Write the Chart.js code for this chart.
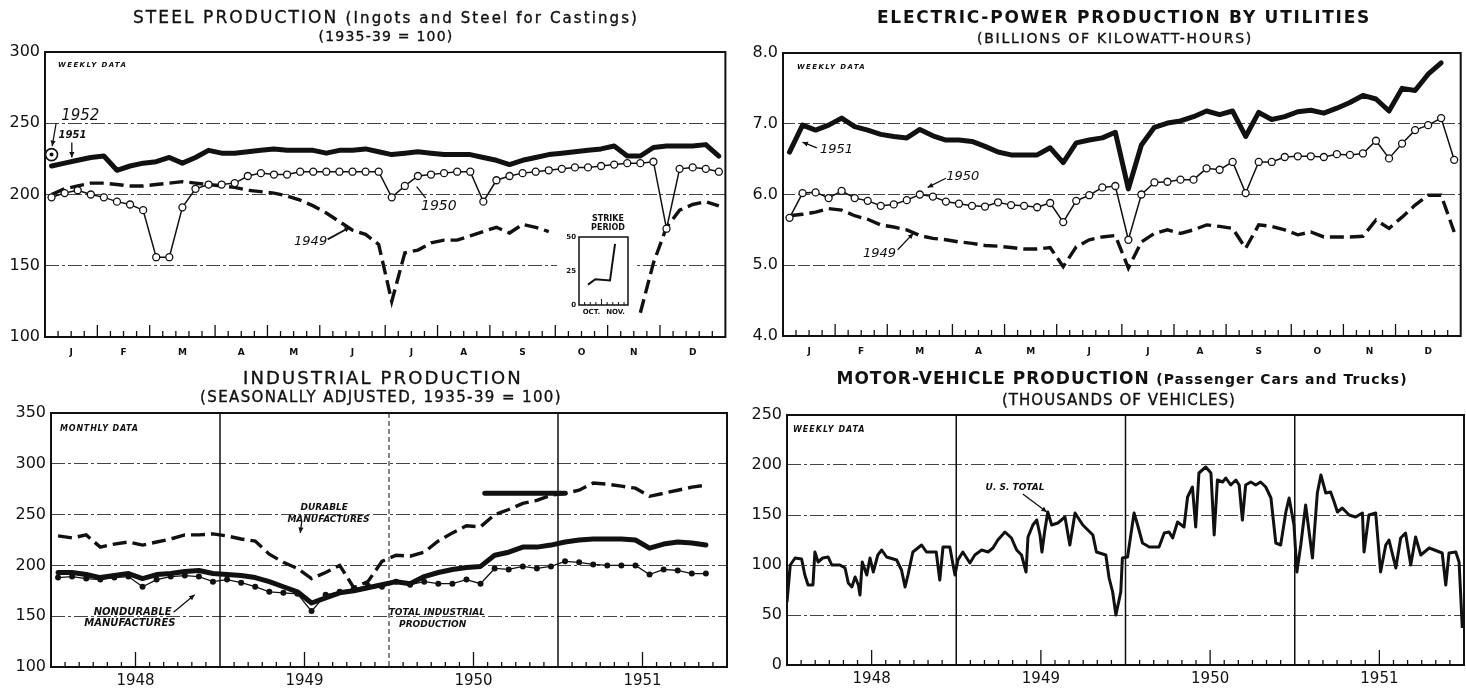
<!DOCTYPE html>
<html><head><meta charset="utf-8">
<script src="https://cdn.jsdelivr.net/npm/chart.js@4.4.1/dist/chart.umd.min.js"></script>
<style>
html,body{margin:0;padding:0;background:#fff;}
body{position:relative;width:1466px;height:690px;overflow:hidden;font-family:"DejaVu Sans",sans-serif;color:#111;}
canvas{position:absolute;}
.t{position:absolute;white-space:nowrap;line-height:1;transform:translate(-50%,-50%);color:#111;}
.n{-webkit-text-stroke:0.35px #111;}
</style></head><body>
<canvas id="cTL" width="733" height="365" style="left:0;top:0"></canvas>
<canvas id="cTR" width="733" height="365" style="left:733px;top:0"></canvas>
<canvas id="cBL" width="733" height="325" style="left:0;top:365px"></canvas>
<canvas id="cBR" width="733" height="325" style="left:733px;top:365px"></canvas>
<canvas id="cIN" width="80" height="112" style="left:557px;top:212px;background:#fff;z-index:2"></canvas>

<div class="t n" data-w="506" style="left:386px;top:17px"><span style="font-size:17px">STEEL PRODUCTION</span> <span style="font-size:15px">(Ingots and Steel for Castings)</span></div>
<div class="t n" data-w="135" style="left:386px;top:36px;font-size:14px">(1935-39 = 100)</div>
<div class="t" data-w="494" style="left:1124px;top:17px;font-size:17px;font-weight:bold">ELECTRIC-POWER PRODUCTION BY UTILITIES</div>
<div class="t n" data-w="276" style="left:1115px;top:38px;font-size:14px">(BILLIONS OF KILOWATT-HOURS)</div>
<div class="t n" data-w="280" style="left:383px;top:378px;font-size:18px">INDUSTRIAL PRODUCTION</div>
<div class="t n" data-w="362" style="left:381px;top:397px;font-size:15px">(SEASONALLY ADJUSTED, 1935-39 = 100)</div>
<div class="t" data-w="571" style="left:1122px;top:378px;font-weight:bold"><span style="font-size:17px">MOTOR-VEHICLE PRODUCTION</span> <span style="font-size:14px">(Passenger Cars and Trucks)</span></div>
<div class="t n" data-w="234" style="left:1119px;top:400px;font-size:15px">(THOUSANDS OF VEHICLES)</div>
<div class="t" style="left:608px;top:219px;font-size:8px;font-weight:bold;z-index:3">STRIKE</div>
<div class="t" style="left:608px;top:228px;font-size:8px;font-weight:bold;z-index:3">PERIOD</div>

<script>
// ---------------- DATA ----------------
const monthLetters = ['J','F','M','A','M','J','J','A','S','O','N','D'];
const weeksPerMonth = [4,4,5,4,4,5,4,4,5,4,4,5];

const steelTicks = [100,150,200,250,300];
const steel1952 = [228];
const steel1951 = [220,222,224,226,227,217,220,222,223,226,222,226,231,229,229,230,231,232,231,231,231,229,231,231,232,230,228,229,230,229,228,228,228,226,224,221,224,226,228,229,230,231,232,234,227,227,233,234,234,234,235,227];
const steel1950 = [198,201,203,200,198,195,193,189,156,156,191,204,207,207,208,213,215,214,214,216,216,216,216,216,216,216,198,206,213,214,215,216,216,195,210,213,215,216,217,218,219,219,220,221,222,222,223,176,218,219,218,216];
const steel1949 = [200,204,206,208,208,207,206,206,207,208,209,208,207,206,205,203,202,201,199,196,192,187,181,175,172,165,125,159,161,166,168,168,171,174,177,173,179,177,174,null,null,null,null,null,null,117,152,177,189,193,195,192];

const strikeTicks = [0,25,50];
const strikeMonths = ['OCT.','NOV.'];
const strikeWeeks = [1.6,2.9,5.5,6.4];
const strikeValues = [15,19,18,45];

const elecTicks = [4,5,6,7,8];
const elec1951 = [6.60,6.98,6.91,6.98,7.08,6.96,6.91,6.85,6.82,6.80,6.92,6.83,6.77,6.77,6.75,6.68,6.60,6.56,6.56,6.56,6.66,6.45,6.73,6.77,6.80,6.88,6.08,6.70,6.95,7.01,7.04,7.10,7.18,7.13,7.18,6.82,7.16,7.06,7.10,7.17,7.19,7.15,7.22,7.30,7.40,7.35,7.18,7.50,7.47,7.70,7.86,null];
const elec1950 = [5.67,6.02,6.03,5.95,6.05,5.95,5.91,5.84,5.86,5.92,6.00,5.97,5.90,5.87,5.84,5.83,5.89,5.85,5.84,5.82,5.88,5.61,5.91,5.99,6.10,6.12,5.36,6.00,6.17,6.18,6.21,6.21,6.37,6.35,6.46,6.02,6.46,6.46,6.53,6.54,6.54,6.53,6.57,6.56,6.58,6.76,6.51,6.72,6.91,6.98,7.08,6.49];
const elec1949 = [5.70,5.72,5.75,5.80,5.78,5.70,5.65,5.57,5.54,5.50,5.42,5.38,5.36,5.33,5.31,5.28,5.27,5.25,5.23,5.23,5.25,4.98,5.26,5.36,5.40,5.42,4.96,5.33,5.45,5.50,5.45,5.50,5.57,5.55,5.52,5.24,5.57,5.55,5.50,5.43,5.47,5.40,5.40,5.40,5.41,5.64,5.52,5.68,5.85,5.99,5.99,5.47];

const yearLabels = ['1948','1949','1950','1951'];
const industrialTicks = [100,150,200,250,300,350];
const durable = [229,227,230,218,221,223,220,223,226,230,230,231,229,226,224,211,203,197,187,193,200,178,184,204,210,209,213,224,232,239,238,250,255,261,264,269,271,274,281,280,278,276,268,271,274,277,279];
const totalIndustrial = [193,193,191,188,190,192,187,191,192,194,195,192,191,190,188,184,179,174,163,168,173,175,178,181,184,182,189,193,196,198,199,210,213,218,218,220,223,225,226,226,226,225,217,221,223,222,220];
const nondurable = [188,189,187,186,188,189,179,186,189,190,189,184,186,183,179,174,173,172,155,171,174,177,180,179,184,181,184,182,182,186,182,197,196,199,197,199,204,203,201,200,200,200,191,196,195,192,192];
const industrialBarMonths = [30.8,36.5];
const industrialBarValues = [271,271];

const vehicleTicks = [0,50,100,150,200,250];
const vehicleWeeks = [0,1,2.5,4.5,5.5,6.5,8,8.6,9.6,11,12.7,13.8,16.3,17.9,18.9,20,21,22,22.5,23.2,24.6,25.6,26.6,28,29.2,30.7,33.8,35.3,36.4,37.3,38.8,41.5,43,46,47.1,48.1,50.2,51.2,51.8,52.7,54.2,56.4,57.9,60,62,63.5,65,67.2,69.2,70.8,72.3,73.7,74.3,75.8,77,78,78.6,79.5,80.4,81.6,83.5,85.7,87.2,88.8,91.2,94.3,95.4,
  98.3,99.3,100.4,101.4,102.9,103.4,105,106,107,108.1,109.6,111.7,114.7,116.3,117.8,118.9,120.4,122.4,123.5,125,126,127,129.1,130.7,131.7,132.7,134.3,135.3,136.8,138.4,139.4,140.4,141.4,143,144.5,146,147.6,149.2,150.7,152.2,153.8,154.8,156.3,157.2,158.4,159.9,162,163.5,164.6,166.1,167.6,168.7,169.7,171.2,173.3,175.3,177.4,177.9,179.4,181.5,183,184.6,185.6,187.7,189.2,190.7,192.3,193.8,195.4,198,202,203.1,204.1,206.2,207.2,208.2];
const vehicleValues = [63,100,107,106,90,80,80,113,103,107,108,100,100,97,82,78,88,80,70,103,90,107,93,110,115,108,105,95,78,90,113,120,113,113,85,118,118,100,90,105,113,102,110,115,113,117,125,133,127,115,110,93,128,140,145,130,113,135,153,140,142,148,120,152,140,130,113,
  110,87,73,50,73,107,108,130,152,140,122,118,118,132,133,127,143,138,168,178,138,192,198,192,130,185,183,187,180,185,180,145,180,183,180,183,178,167,122,120,153,167,140,93,120,160,107,172,190,172,173,163,153,157,150,148,152,113,150,152,93,120,125,97,127,132,100,128,110,117,112,80,112,113,103,37];

// ---------------- HELPERS ----------------
const ink = '#111';
const FONT = 'DejaVu Sans';
Chart.defaults.font.family = FONT;
Chart.defaults.color = ink;
Chart.defaults.animation = false;
Chart.defaults.responsive = false;
Chart.defaults.plugins.legend.display = false;
Chart.defaults.plugins.tooltip.enabled = false;
Chart.defaults.elements.line.tension = 0;
Chart.defaults.elements.point.radius = 0;

const framePlugin = {
  id: 'frame',
  beforeDatasetsDraw(chart, args, opts) {
    const {ctx, chartArea: a, scales: {x}} = chart;
    ctx.save();
    ctx.strokeStyle = ink;
    (opts.vlines || []).forEach(v => {
      const px = x.getPixelForValue(v.at);
      ctx.lineWidth = v.width || 1.5;
      ctx.setLineDash(v.dash || []);
      ctx.beginPath(); ctx.moveTo(px, a.top); ctx.lineTo(px, a.bottom); ctx.stroke();
    });
    ctx.setLineDash([]);
    ctx.lineWidth = opts.tickWidth || 1.3;
    (opts.marks || []).forEach(t => {
      const px = x.getPixelForValue(t.at);
      ctx.beginPath(); ctx.moveTo(px, a.bottom); ctx.lineTo(px, a.bottom - t.len); ctx.stroke();
    });
    ctx.lineWidth = opts.border || 2;
    ctx.strokeRect(a.left, a.top, a.right - a.left, a.bottom - a.top);
    ctx.restore();
  }
};
const notesPlugin = {
  id: 'notes',
  afterDatasetsDraw(chart, args, opts) {
    const items = opts.items || [];
    const {ctx, scales: {x, y}} = chart;
    ctx.save();
    ctx.fillStyle = ink; ctx.strokeStyle = ink;
    items.forEach(it => {
      if (it.text) {
        ctx.font = it.font || ('italic bold 9px ' + FONT);
        ctx.textAlign = it.align || 'center';
        ctx.textBaseline = 'middle';
        if ('letterSpacing' in ctx) ctx.letterSpacing = (it.ls || 0) + 'px';
        ctx.fillText(it.text, x.getPixelForValue(it.at[0]), y.getPixelForValue(it.at[1]));
        if ('letterSpacing' in ctx) ctx.letterSpacing = '0px';
      } else {
        const x1 = x.getPixelForValue(it.from[0]), y1 = y.getPixelForValue(it.from[1]);
        const x2 = x.getPixelForValue(it.to[0]), y2 = y.getPixelForValue(it.to[1]);
        ctx.lineWidth = it.width || 1.3;
        ctx.beginPath(); ctx.moveTo(x1, y1); ctx.lineTo(x2, y2); ctx.stroke();
        if (it.head) {
          const a = Math.atan2(y2 - y1, x2 - x1), h = 6;
          ctx.beginPath(); ctx.moveTo(x2, y2);
          ctx.lineTo(x2 - h * Math.cos(a - 0.45), y2 - h * Math.sin(a - 0.45));
          ctx.lineTo(x2 - h * Math.cos(a + 0.45), y2 - h * Math.sin(a + 0.45));
          ctx.closePath(); ctx.fill();
        }
      }
    });
    ctx.restore();
  }
};
Chart.register(framePlugin, notesPlugin);

const weekly = (arr) => arr.map((v, i) => ({x: i + 0.5, y: v}));
const pairs = (xs, ys) => xs.map((v, i) => ({x: v, y: ys[i]}));

const monthStarts = weeksPerMonth.reduce((a, w) => { a.push(a[a.length - 1] + w); return a; }, [0]);
const monthCenters = monthLetters.map((_, i) => (monthStarts[i] + monthStarts[i + 1]) / 2);
const weekMarks = [];
for (let w = 1; w < 52; w++) weekMarks.push({at: w, len: monthStarts.includes(w) ? 12 : 6});

const thick = {borderColor: ink, borderWidth: 5, pointRadius: 0, borderJoinStyle: 'round', borderCapStyle: 'round'};
const dashed = {borderColor: ink, borderWidth: 3.4, borderDash: [14, 6], pointRadius: 0};
const circles = {borderColor: ink, borderWidth: 1.5, pointRadius: 3.5, pointBackgroundColor: '#fff', pointBorderColor: ink, pointBorderWidth: 1.3};

function yAxis(ticks, width, fmt, dash, size) {
  const min = ticks[0], max = ticks[ticks.length - 1];
  return {
    type: 'linear', min, max,
    afterFit: s => { s.width = width; },
    afterBuildTicks: s => { s.ticks = ticks.map(v => ({value: v})); },
    ticks: {color: ink, padding: 5, font: {family: FONT, size: size || 16}, callback: fmt || (v => v)},
    grid: {drawTicks: false, lineWidth: 1, color: c => (c.tick && (c.tick.value === min || c.tick.value === max)) ? 'rgba(0,0,0,0)' : '#444'},
    border: {display: false, dash: dash || [14, 3, 3, 3]}
  };
}
function catX(min, max, centers, labels, height, font, padding) {
  return {
    type: 'linear', min, max,
    afterBuildTicks: s => { s.ticks = centers.map(v => ({value: v})); },
    afterFit: s => { s.height = height; },
    grid: {display: false, drawTicks: false}, border: {display: false},
    ticks: {autoSkip: false, maxRotation: 0, padding, color: ink, font, callback: (v, i) => labels[i]}
  };
}

// ---------------- STEEL ----------------
new Chart(document.getElementById('cTL'), {
  type: 'line',
  data: {datasets: [
    {data: [{x: 0.5, y: steel1952[0]}], showLine: false, pointRadius: 2, pointBackgroundColor: ink, pointBorderWidth: 0},
    {data: [{x: 0.5, y: steel1952[0]}], showLine: false, pointRadius: 6, pointBackgroundColor: '#fff', pointBorderColor: ink, pointBorderWidth: 1.6},
    Object.assign({data: weekly(steel1950)}, circles),
    Object.assign({data: weekly(steel1951)}, thick),
    Object.assign({data: weekly(steel1949), spanGaps: false}, dashed)
  ]},
  options: {
    layout: {padding: {left: 0, top: 52, right: 5, bottom: 6}},
    scales: {
      x: catX(0, 52, monthCenters, monthLetters, 22, {family: FONT, size: 9, weight: 'bold'}, 10),
      y: yAxis(steelTicks, 45)
    },
    plugins: {
      frame: {marks: weekMarks},
      notes: {items: [
        {text: 'WEEKLY DATA', at: [1.0, 290.5], align: 'left', font: 'italic bold 7px ' + FONT, ls: 1.4},
        {text: '1952', at: [2.7, 255], font: 'italic 15px ' + FONT},
        {text: '1951', at: [2.1, 241.5], font: 'italic bold 10px ' + FONT},
        {from: [0.85, 250], to: [0.55, 234], head: true},
        {from: [2.05, 236.5], to: [2.05, 226], head: true},
        {text: '1950', at: [30.1, 191.5], font: 'italic 14px ' + FONT},
        {from: [29.1, 197.5], to: [28.4, 205.5]},
        {text: '1949', at: [20.3, 167], font: 'italic 13px ' + FONT},
        {from: [21.6, 168.5], to: [23.3, 177], head: true, width: 1.8}
      ]}
    }
  }
});

// ---------------- STRIKE INSET ----------------
const strikeMarks = [];
for (let w = 1; w < 9; w++) strikeMarks.push({at: w, len: w === 4 ? 6 : 3});
new Chart(document.getElementById('cIN'), {
  type: 'line',
  data: {datasets: [Object.assign({data: pairs(strikeWeeks, strikeValues)}, {borderColor: ink, borderWidth: 2, pointRadius: 0})]},
  options: {
    layout: {padding: {left: 0, top: 25, right: 9, bottom: 7}},
    scales: {
      x: catX(0, 8.7, [2.2, 6.5], strikeMonths, 12, {family: FONT, size: 7, weight: 'bold'}, 3),
      y: Object.assign(yAxis(strikeTicks, 22, null, [0, 100], 7), {grid: {display: false, drawTicks: false}, ticks: {color: ink, padding: 3, font: {family: FONT, size: 7, weight: 'bold'}}})
    },
    plugins: {frame: {marks: strikeMarks, border: 1.5, tickWidth: 1}}
  }
});

// ---------------- ELECTRIC ----------------
new Chart(document.getElementById('cTR'), {
  type: 'line',
  data: {datasets: [
    Object.assign({data: weekly(elec1950)}, circles),
    Object.assign({data: weekly(elec1951)}, thick),
    Object.assign({data: weekly(elec1949)}, dashed)
  ]},
  options: {
    layout: {padding: {left: 0, top: 53, right: 3, bottom: 7}},
    scales: {
      x: catX(0, 52, monthCenters, monthLetters, 22, {family: FONT, size: 9, weight: 'bold'}, 10),
      y: yAxis(elecTicks, 50, v => Number(v).toFixed(1), [12, 3])
    },
    plugins: {
      frame: {marks: weekMarks},
      notes: {items: [
        {text: 'WEEKLY DATA', at: [1.07, 7.80], align: 'left', font: 'italic bold 7px ' + FONT, ls: 1.4},
        {text: '1951', at: [4.1, 6.63], font: 'italic 13px ' + FONT},
        {from: [2.6, 6.66], to: [1.5, 6.74], head: true},
        {text: '1950', at: [13.8, 6.25], font: 'italic 13px ' + FONT},
        {from: [12.5, 6.23], to: [11.1, 6.10], head: true},
        {text: '1949', at: [7.4, 5.17], font: 'italic 13px ' + FONT},
        {from: [8.8, 5.22], to: [10.0, 5.45], head: true}
      ]}
    }
  }
});

// ---------------- INDUSTRIAL ----------------
const indMarks = [];
for (let m = 1; m < 48; m++) if (m % 12) indMarks.push({at: m, len: (m % 12 === 6) ? 15 : 5});
new Chart(document.getElementById('cBL'), {
  type: 'line',
  data: {datasets: [
    Object.assign({data: weekly(nondurable)}, {borderColor: ink, borderWidth: 1.3, pointRadius: 3, pointBackgroundColor: ink, pointBorderWidth: 0}),
    Object.assign({data: weekly(totalIndustrial)}, thick),
    Object.assign({data: pairs(industrialBarMonths, industrialBarValues)}, thick),
    Object.assign({data: weekly(durable)}, dashed)
  ]},
  options: {
    layout: {padding: {left: 0, top: 48, right: 6, bottom: 3}},
    scales: {
      x: catX(0, 48, [6, 18, 30, 42], yearLabels, 20, {family: FONT, size: 15}, 5),
      y: yAxis(industrialTicks, 51)
    },
    plugins: {
      frame: {marks: indMarks, vlines: [{at: 12, width: 1.5}, {at: 24, width: 1, dash: [5, 3]}, {at: 36, width: 1.5}]},
      notes: {items: [
        {text: 'MONTHLY DATA', at: [0.64, 334], align: 'left', font: 'italic bold 8px ' + FONT, ls: 0.8},
        {text: 'DURABLE', at: [19.4, 256.5], font: 'italic bold 9px ' + FONT},
        {text: 'MANUFACTURES', at: [19.7, 245], font: 'italic bold 9px ' + FONT},
        {from: [17.8, 243], to: [17.7, 232], head: true},
        {text: 'NONDURABLE', at: [5.8, 154], font: 'italic bold 10px ' + FONT},
        {text: 'MANUFACTURES', at: [5.6, 143], font: 'italic bold 10px ' + FONT},
        {from: [8.7, 154], to: [10.2, 171], head: true},
        {text: 'TOTAL INDUSTRIAL', at: [27.4, 153], font: 'italic bold 9px ' + FONT},
        {text: 'PRODUCTION', at: [27.1, 142], font: 'italic bold 9px ' + FONT}
      ]}
    }
  }
});

// ---------------- MOTOR VEHICLES ----------------
const wpy = 52.18;
const vehMarks = [];
for (let m = 1; m < 48; m++) if (m % 12) vehMarks.push({at: m * wpy / 12, len: (m % 12 === 6) ? 15 : 5});
new Chart(document.getElementById('cBR'), {
  type: 'line',
  data: {datasets: [
    Object.assign({data: pairs(vehicleWeeks, vehicleValues)}, {borderColor: ink, borderWidth: 3, pointRadius: 0, borderJoinStyle: 'round'})
  ]},
  options: {
    layout: {padding: {left: 0, top: 50, right: 2, bottom: 5}},
    scales: {
      x: catX(0, 4 * wpy, [0.5, 1.5, 2.5, 3.5].map(k => k * wpy), yearLabels, 20, {family: FONT, size: 15}, 5),
      y: yAxis(vehicleTicks, 54)
    },
    plugins: {
      frame: {marks: vehMarks, vlines: [{at: wpy}, {at: 2 * wpy}, {at: 3 * wpy}]},
      notes: {items: [
        {text: 'WEEKLY DATA', at: [1.85, 235], align: 'left', font: 'italic bold 8px ' + FONT, ls: 1},
        {text: 'U. S. TOTAL', at: [70.3, 177], font: 'italic bold 9px ' + FONT},
        {from: [72.7, 171], to: [80.1, 153], head: true}
      ]}
    }
  }
});

// fit titles to measured widths
function fitTitles() {
  document.querySelectorAll('.t[data-w]').forEach(el => {
    el.style.letterSpacing = '0px';
    const w = el.getBoundingClientRect().width;
    const n = el.textContent.length;
    const target = +el.dataset.w;
    el.style.letterSpacing = ((target - w) / n).toFixed(2) + 'px';
  });
}
fitTitles();
if (document.fonts && document.fonts.ready) document.fonts.ready.then(fitTitles);
</script>
</body></html>
